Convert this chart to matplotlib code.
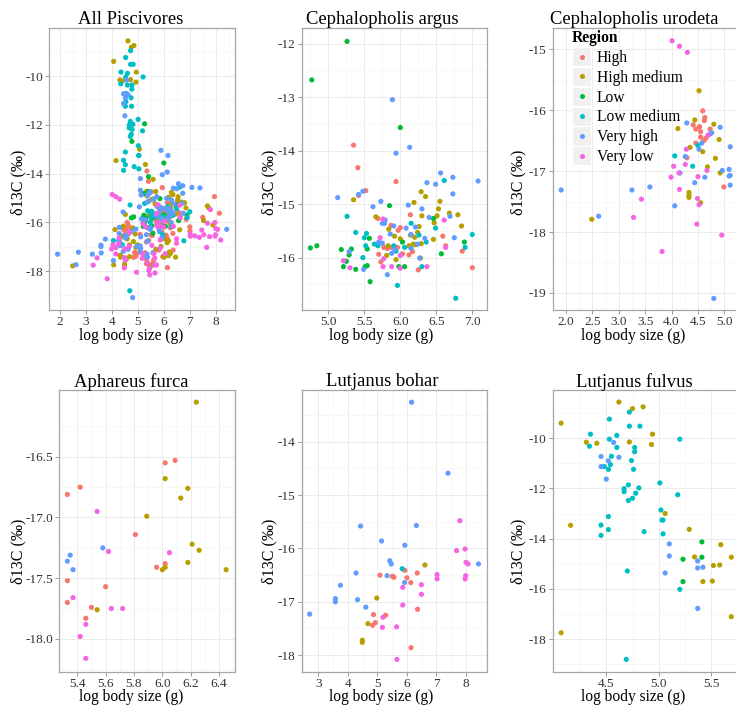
import matplotlib
matplotlib.use("Agg")
import matplotlib.pyplot as plt
from matplotlib.lines import Line2D
from matplotlib.patches import Rectangle
from matplotlib.legend_handler import HandlerBase
import numpy as np

plt.rcParams['font.family'] = ['Liberation Serif', 'DejaVu Serif']
plt.rcParams['axes.unicode_minus'] = False

REGIONS = ["High", "High medium", "Low", "Low medium", "Very high", "Very low"]
COLORS = ["#F8766D", "#B79F00", "#00BA38", "#00BFC4", "#619CFF", "#F564E3"]

# ---------------- data: (x = log body size, y = d13C) per region ----------------
argus = {
    "High": ([5.35,5.41,5.94,5.52,5.42,6.14,5.69,5.87,6.0,5.97,6.59,5.77,5.82,5.87,5.96,6.17,6.63,6.86,5.70,6.03,6.12,5.73,6.25,7.0],
             [-13.90,-14.32,-14.58,-14.75,-14.84,-15.20,-15.27,-15.40,-15.44,-15.49,-15.60,-15.81,-15.83,-15.81,-15.81,-15.89,-15.78,-15.88,-15.94,-15.93,-15.95,-16.08,-16.23,-16.19]),
    "High medium": ([6.29,6.35,5.35,6.19,6.55,6.53,6.68,6.80,5.66,6.30,6.51,6.47,5.84,6.26,6.85,5.92,6.24,6.14,6.20,6.46,6.0,5.83,6.12,6.18,6.21,6.29,5.81,6.28,5.94],
                    [-14.77,-14.86,-14.92,-14.97,-14.95,-15.09,-15.17,-15.20,-15.24,-15.22,-15.22,-15.35,-15.47,-15.42,-15.41,-15.60,-15.53,-15.58,-15.62,-15.66,-15.65,-15.78,-15.78,-15.75,-15.76,-15.74,-15.96,-16.01,-16.04]),
    "Low": ([5.26,4.77,6.0,5.85,6.46,6.89,4.75,4.84,5.18,5.32,5.29,5.57,6.03,5.54,6.57,5.25,5.21,5.38,5.51,5.54,5.98,6.06,5.58],
            [-11.96,-12.68,-13.57,-15.03,-15.27,-15.71,-15.82,-15.78,-15.85,-15.84,-15.95,-15.64,-15.71,-15.84,-15.93,-16.07,-16.17,-16.22,-16.17,-16.15,-16.17,-16.17,-16.45]),
    "Low medium": ([6.61,5.26,6.15,6.49,5.38,5.53,6.26,6.36,7.0,5.5,5.52,5.64,5.69,5.91,6.06,6.90,5.48,5.94,6.30,5.96,6.77],
                   [-14.56,-15.23,-15.36,-15.45,-15.53,-15.55,-15.58,-15.71,-15.57,-15.63,-15.78,-15.75,-15.78,-15.78,-15.81,-15.81,-16.0,-15.88,-16.17,-16.52,-16.76]),
    "Very high": ([5.89,6.13,5.94,6.56,6.73,7.08,6.37,6.49,6.73,5.48,5.42,5.13,5.73,5.62,6.11,6.30,5.79,5.75,5.78,6.40,6.69,5.91,6.08,6.21,5.86,6.15,6.34,6.75,5.29,5.70,5.75,5.92,6.15,6.24,5.88,6.27,5.49,5.82],
                  [-13.05,-13.94,-14.05,-14.42,-14.50,-14.57,-14.60,-14.63,-14.81,-14.76,-14.82,-14.88,-14.95,-15.05,-15.02,-15.09,-15.30,-15.36,-15.36,-15.25,-15.23,-15.41,-15.45,-15.43,-15.56,-15.57,-15.64,-15.63,-15.89,-15.71,-15.73,-15.85,-15.83,-15.75,-15.92,-16.01,-16.22,-16.32]),
    "Very low": ([5.76,5.72,6.61,6.63,6.0,5.21,5.77,5.30,5.76,5.88,6.0,6.37],
                 [-15.28,-15.63,-15.30,-15.81,-15.96,-16.06,-16.02,-16.19,-16.17,-16.17,-16.20,-16.17]),
}

urodeta = {
    "High": ([4.59,4.63,4.62,4.41,4.53,4.46,4.55,4.73,4.55,4.65,4.61,4.46,4.29,4.99],
             [-16.01,-16.12,-16.17,-16.24,-16.27,-16.31,-16.35,-16.31,-16.44,-16.46,-16.50,-16.54,-16.78,-17.26]),
    "High medium": ([4.52,4.44,4.80,4.12,4.90,4.59,4.35,4.83,4.68,4.92,4.33,4.33,4.33,4.55,2.49],
                    [-15.68,-16.16,-16.23,-16.30,-16.48,-16.68,-16.61,-16.79,-16.93,-17.03,-17.35,-17.40,-17.43,-17.52,-17.79]),
    "Low": ([], []),
    "Low medium": ([4.50,4.06,4.40], [-16.58,-16.75,-16.92]),
    "Very high": ([4.29,4.92,4.76,4.73,4.57,4.52,5.11,4.26,5.09,4.96,5.09,5.11,4.63,4.44,5.11,3.59,3.25,4.06,1.91,2.62,4.80,4.16],
                  [-16.21,-16.28,-16.37,-16.39,-16.54,-16.64,-16.60,-16.76,-16.97,-16.99,-17.08,-17.07,-17.10,-17.19,-17.23,-17.26,-17.31,-17.57,-17.31,-17.74,-19.09,-17.03]),
    "Very low": ([4.01,4.15,4.30,4.69,4.28,4.04,4.26,4.67,4.14,3.99,4.50,4.15,3.43,4.49,4.52,3.28,3.82,4.48,4.95],
                 [-14.86,-14.95,-15.05,-16.41,-16.64,-16.92,-16.89,-16.99,-17.03,-17.10,-17.09,-17.30,-17.46,-17.45,-17.55,-17.76,-18.32,-17.87,-18.05]),
}

furca = {
    "High": ([6.09,6.02,5.42,5.33,5.81,6.02,5.96,5.33,5.60,5.33,5.50,5.46],
             [-16.53,-16.55,-16.75,-16.81,-17.14,-17.38,-17.41,-17.52,-17.57,-17.70,-17.74,-17.83]),
    "High medium": ([6.24,6.02,6.18,6.13,5.89,6.21,6.26,6.18,6.02,6.0,6.45,5.54],
                    [-16.05,-16.68,-16.76,-16.84,-16.99,-17.22,-17.27,-17.37,-17.41,-17.43,-17.43,-17.76]),
    "Low": ([], []),
    "Low medium": ([], []),
    "Very high": ([5.58,5.35,5.33,5.37], [-17.25,-17.31,-17.36,-17.43]),
    "Very low": ([5.54,5.62,6.05,5.37,5.64,5.72,5.46,5.42,5.46],
                 [-16.95,-17.28,-17.29,-17.66,-17.75,-17.75,-17.88,-17.98,-18.16]),
}

bohar = {
    "High": ([5.09,5.51,5.56,5.93,6.35,6.0,6.13,6.36,4.87,5.28,4.93,4.84,6.14],
             [-16.50,-16.52,-16.54,-16.41,-16.46,-16.55,-16.64,-17.14,-17.24,-17.25,-17.39,-17.44,-17.86]),
    "High medium": ([6.61,4.98,4.68,4.49,4.49], [-16.31,-16.93,-17.41,-17.72,-17.76]),
    "Low": ([], []),
    "Low medium": ([5.84], [-16.38]),
    "Very high": ([6.16,7.39,4.43,6.32,5.14,5.93,5.42,5.47,8.42,4.28,5.33,5.92,3.75,3.58,3.58,4.33,4.61,2.71],
                  [-13.26,-14.59,-15.58,-15.57,-15.86,-15.94,-16.23,-16.29,-16.29,-16.46,-16.51,-16.64,-16.69,-16.94,-17.0,-16.96,-17.10,-17.23]),
    "Very low": ([7.79,7.68,7.97,8.0,8.07,7.02,7.02,7.99,7.97,6.49,5.86,6.49,5.86,5.19,5.17,5.65,5.66],
                 [-15.48,-16.04,-16.01,-16.26,-16.29,-16.49,-16.57,-16.51,-16.57,-16.68,-16.73,-16.86,-17.06,-17.29,-17.48,-17.47,-18.08]),
}

fulvus = {
    "High": ([], []),
    "High medium": ([4.07,4.62,4.75,4.85,4.94,4.31,4.41,4.72,4.93,5.06,4.16,5.29,5.59,5.34,5.69,5.52,5.58,5.42,5.51,5.69,4.07],
                    [-9.40,-8.56,-8.82,-8.75,-9.84,-10.16,-10.20,-10.15,-10.25,-13.00,-13.47,-13.63,-14.24,-14.73,-14.74,-15.07,-15.05,-15.71,-15.69,-17.11,-17.75]),
    "Low": ([5.41,5.23,5.41,5.23], [-14.13,-14.82,-14.74,-15.71]),
    "Low medium": ([4.72,4.53,4.72,4.82,4.35,4.34,4.53,4.60,4.60,5.20,4.77,4.77,4.55,4.74,4.54,4.48,4.52,4.76,4.71,4.67,4.67,4.81,4.78,4.75,4.71,5.01,5.18,5.02,5.03,5.04,4.52,4.45,4.52,4.86,4.45,5.04,4.70,5.20,4.69],
                   [-8.96,-9.24,-9.52,-9.52,-9.84,-10.32,-10.04,-9.89,-10.37,-10.04,-10.37,-10.54,-10.72,-10.89,-11.05,-11.13,-11.24,-11.24,-11.86,-12.01,-12.13,-11.98,-12.19,-12.39,-12.48,-11.78,-12.25,-12.86,-13.26,-13.26,-13.12,-13.46,-13.64,-13.72,-13.87,-13.81,-15.29,-16.02,-18.81]),
    "Very high": ([4.57,4.45,4.62,4.52,4.45,4.50,5.10,5.10,5.37,5.42,5.37,5.06,5.37],
                  [-10.17,-10.73,-10.76,-10.90,-11.13,-11.63,-14.21,-14.69,-14.89,-15.14,-15.17,-15.37,-16.78]),
    "Very low": ([], []),
}

# other piscivore species that only appear in the pooled panel
other = {
    "High": ([7.95,8.14,7.50,7.01], [-14.95,-15.63,-15.80,-16.36]),
    "High medium": ([7.68,7.72,7.53,7.89], [-15.33,-15.40,-15.93,-16.11]),
    "Low": ([], []),
    "Low medium": ([], []),
    "Very high": ([], []),
    "Very low": ([7.20,7.37,7.54,7.76,8.19,7.65,7.46], [-16.56,-16.62,-16.51,-16.59,-16.73,-17.03,-16.32]),
}

species_all = [argus, urodeta, furca, bohar, fulvus, other]
pooled = {r: (sum((list(s[r][0]) for s in species_all), []),
              sum((list(s[r][1]) for s in species_all), [])) for r in REGIONS}

# ---------------- layout ----------------
W, H = 736, 706
fig = plt.figure(figsize=(W / 100, H / 100), dpi=100)
fig.patch.set_facecolor("white")

panels = [
    ("All Piscivores", pooled, (49, 235, 28, 310), (1.58, 8.74), (-19.6, -8.03),
     [2, 3, 4, 5, 6, 7, 8], [-18, -16, -14, -12, -10], "%d", "%d", 131, 0),
    ("Cephalopholis argus", argus, (301.7, 486.7, 28, 310), (4.63, 7.2), (-16.98, -11.71),
     [5.0, 5.5, 6.0, 6.5, 7.0], [-16, -15, -14, -13, -12], "%.1f", "%d", 382, 0),
    ("Cephalopholis urodeta", urodeta, (552.7, 739.7, 28, 310), (1.75, 5.29), (-19.28, -14.65),
     [2.0, 2.5, 3.0, 3.5, 4.0, 4.5, 5.0], [-19, -18, -17, -16, -15], "%.1f", "%d", 634, 0),
    ("Aphareus furca", furca, (59.3, 235.3, 390, 671.7), (5.273, 6.515), (-18.27, -15.95),
     [5.4, 5.6, 5.8, 6.0, 6.2, 6.4], [-18.0, -17.5, -17.0, -16.5], "%.1f", "%.1f", 131, 1),
    ("Lutjanus bohar", bohar, (301.7, 486.7, 390, 671.7), (2.44, 8.70), (-18.31, -13.03),
     [3, 4, 5, 6, 7, 8], [-18, -17, -16, -15, -14], "%d", "%d", 382, 1),
    ("Lutjanus fulvus", fulvus, (552.7, 739.7, 390, 671.7), (3.99, 5.77), (-19.3, -8.08),
     [4.5, 5.0, 5.5], [-18, -16, -14, -12, -10], "%.1f", "%d", 634, 1),
]

title_y = [20, 382]
xlabel_y = [336, 697]
ylabel_y = [182, 551]
ylabel_x = [18, 269, 518]
label_x = [131, 381, 633]

TICKC = "#333333"

def minor_between(ticks, lo, hi):
    step = ticks[1] - ticks[0]
    v = ticks[0] - step / 2
    while v > lo:
        v -= step
    out = []
    while v < hi:
        if v > lo:
            out.append(v)
        v += step
    return [m for m in out if all(abs(m - t) > step / 4 for t in ticks)]

axes = []
for i, (title, data, box, xl, yl, xt, yt, fx, fy, tx, row) in enumerate(panels):
    l, r, t, b = box
    ax = fig.add_axes([l / W, 1 - b / H, (r - l) / W, (b - t) / H])
    axes.append(ax)
    ax.set_xlim(*xl)
    ax.set_ylim(*yl)
    ax.set_facecolor("white")
    ax.set_xticks(xt)
    ax.set_yticks(yt)
    ax.set_xticklabels([fx % v for v in xt])
    ax.set_yticklabels([fy % v for v in yt])
    ax.set_xticks(minor_between(xt, *xl), minor=True)
    ax.set_yticks(minor_between(yt, *yl), minor=True)
    ax.grid(which="major", color="#ebebeb", lw=0.7, zorder=0)
    ax.grid(which="minor", color="#f5f5f5", lw=0.5, zorder=0)
    ax.set_axisbelow(True)
    ax.tick_params(which="major", direction="out", length=3, width=0.6, color="#8a8a8a",
                   labelsize=9.5, labelcolor=TICKC, pad=1.5)
    ax.tick_params(which="minor", length=0)
    for s in ax.spines.values():
        s.set_color("#a6a6a6")
        s.set_linewidth(0.9)
    for reg, col in zip(REGIONS, COLORS):
        xs, ys = data[reg]
        if len(xs):
            ax.scatter(xs, ys, s=14, color=col, edgecolors="none", zorder=3)
    col_i = i % 3
    fig.text(tx / W, 1 - title_y[row] / H, title, ha="center", va="center", fontsize=13.4, color="black")
    fig.text(label_x[col_i] / W, 1 - xlabel_y[row] / H, "log body size (g)", ha="center", va="center",
             fontsize=11.2, color="black")
    fig.text(ylabel_x[col_i] / W, 1 - ylabel_y[row] / H, "δ13C (‰)", ha="center", va="center",
             rotation=90, fontsize=11.6, color="black")

# ---------------- legend in the third panel ----------------
class KeyHandler(HandlerBase):
    def create_artists(self, legend, orig_handle, xdescent, ydescent, width, height, fontsize, trans):
        rect = Rectangle((-xdescent, -ydescent - 1.5), width, height + 3, facecolor="#f0f0f0",
                         edgecolor="white", lw=1.0, transform=trans)
        dot = Line2D([-xdescent + width / 2], [-ydescent + height / 2], marker="o", ms=3.6,
                     ls="", color=orig_handle.get_color(), mec="none", transform=trans)
        return [rect, dot]

handles = [Line2D([], [], color=c) for c in COLORS]
leg = axes[2].legend(handles, REGIONS, title="Region", loc="upper left",
                     bbox_to_anchor=((572 - 552.7) / 187, 1 - (30 - 28) / 282),
                     frameon=False, fontsize=11.2, title_fontsize=11.2,
                     handler_map={Line2D: KeyHandler()}, handlelength=1.25, handleheight=1.1,
                     handletextpad=0.35, labelspacing=0.2, borderpad=0, borderaxespad=0,
                     alignment="left")
leg.get_title().set_fontweight("bold")
leg.set_zorder(5)

fig.savefig("out.png", dpi=100, facecolor="white")
